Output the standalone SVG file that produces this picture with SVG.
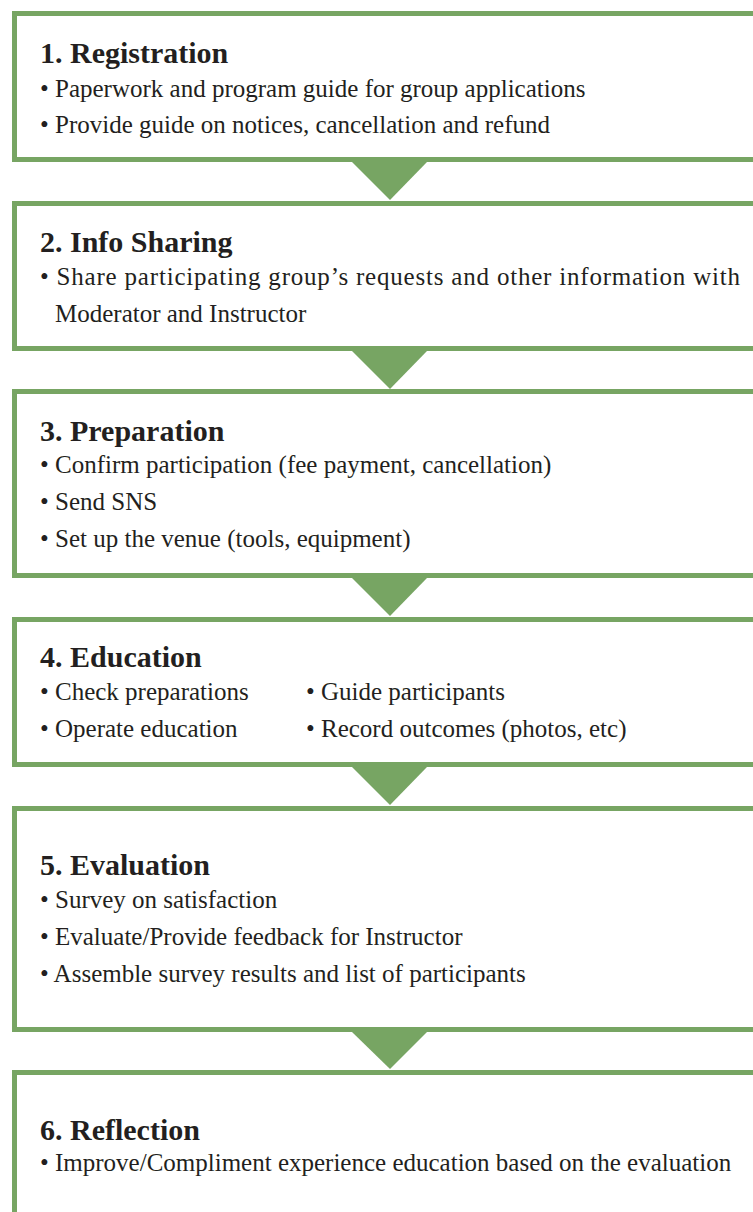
<svg xmlns="http://www.w3.org/2000/svg" width="753" height="1212" viewBox="0 0 753 1212">
<style>
.box{fill:#ffffff;stroke:#77a563;stroke-width:5}
.arr{fill:#77a563}
.t{font-family:"Liberation Serif","Times New Roman",serif;font-weight:bold;font-size:30px;fill:#231f20}
.b{font-family:"Liberation Serif","Times New Roman",serif;font-size:25px;fill:#231f20}
</style>
<rect x="0" y="0" width="753" height="1212" fill="#ffffff"/>
<g id="connectors">
<polygon class="arr" points="352,162 427,162 390,200"/>
<polygon class="arr" points="352,351 427,351 390,389"/>
<polygon class="arr" points="352,578 427,578 390,616"/>
<polygon class="arr" points="352,767 427,767 390,805"/>
<polygon class="arr" points="352,1032 427,1032 390,1069"/>
</g>
<g id="node1">
<rect class="box" x="14.5" y="13.5" width="800" height="146"/>
<text class="t" x="40" y="63">1. Registration</text>
<text class="b" x="40" y="97">• Paperwork and program guide for group applications</text>
<text class="b" x="40" y="133">• Provide guide on notices, cancellation and refund</text>
</g>
<g id="node2">
<rect class="box" x="14.5" y="203.5" width="800" height="145"/>
<text class="t" x="40" y="252">2. Info Sharing</text>
<text class="b" x="40" y="285" textLength="700" lengthAdjust="spacing">• Share participating group’s requests and other information with</text>
<text class="b" x="55" y="322">Moderator and Instructor</text>
</g>
<g id="node3">
<rect class="box" x="14.5" y="391.5" width="800" height="184"/>
<text class="t" x="40" y="441">3. Preparation</text>
<text class="b" x="40" y="473">• Confirm participation (fee payment, cancellation)</text>
<text class="b" x="40" y="510">• Send SNS</text>
<text class="b" x="40" y="547">• Set up the venue (tools, equipment)</text>
</g>
<g id="node4">
<rect class="box" x="14.5" y="619.5" width="800" height="145"/>
<text class="t" x="40" y="667">4. Education</text>
<text class="b" x="40" y="700">• Check preparations</text>
<text class="b" x="40" y="737">• Operate education</text>
<text class="b" x="306" y="700">• Guide participants</text>
<text class="b" x="306" y="737">• Record outcomes (photos, etc)</text>
</g>
<g id="node5">
<rect class="box" x="14.5" y="808.5" width="800" height="221"/>
<text class="t" x="40" y="875">5. Evaluation</text>
<text class="b" x="40" y="908">• Survey on satisfaction</text>
<text class="b" x="40" y="945">• Evaluate/Provide feedback for Instructor</text>
<text class="b" x="40" y="982">• Assemble survey results and list of participants</text>
</g>
<g id="node6">
<rect class="box" x="14.5" y="1072.5" width="800" height="200"/>
<text class="t" x="40" y="1140">6. Reflection</text>
<text class="b" x="40" y="1171">• Improve/Compliment experience education based on the evaluation</text>
</g>
</svg>
